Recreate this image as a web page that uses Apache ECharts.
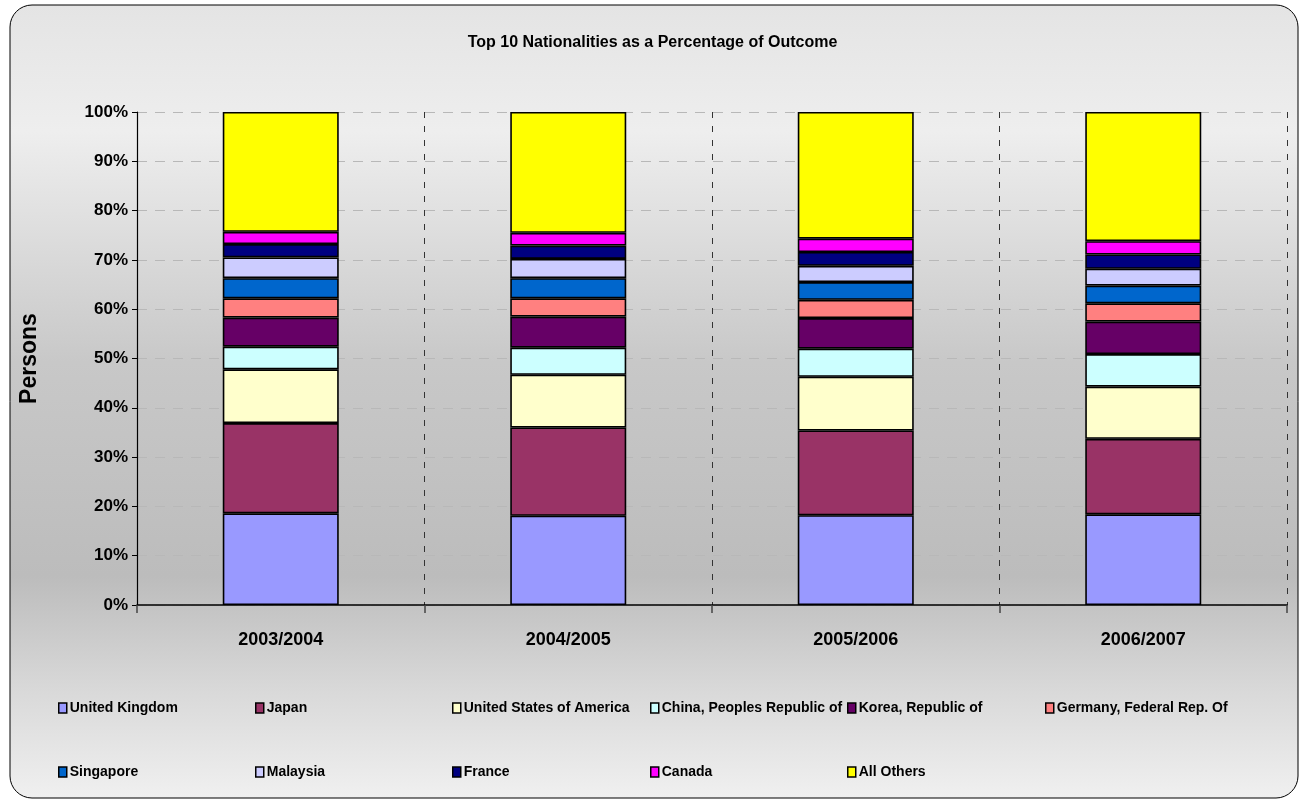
<!DOCTYPE html>
<html>
<head>
<meta charset="utf-8">
<script src="https://cdn.jsdelivr.net/npm/echarts@6/dist/echarts.min.js"></script>
<style>
html,body{margin:0;padding:0;background:#fff;}
#chart{width:1305px;height:803px;}
</style>
</head>
<body>
<div id="chart"></div>
<script>
const categories = ['2003/2004', '2004/2005', '2005/2006', '2006/2007'];
const yTicks = [0, 10, 20, 30, 40, 50, 60, 70, 80, 90, 100];
const seriesNames = ['United Kingdom', 'Japan', 'United States of America', 'China, Peoples Republic of', 'Korea, Republic of', 'Germany, Federal Rep. Of', 'Singapore', 'Malaysia', 'France', 'Canada', 'All Others'];
const unitedKingdom = [18.6, 18.1, 18.2, 18.4];
const japan = [18.3, 17.9, 17.2, 15.3];
const usa = [10.9, 10.7, 10.9, 10.6];
const china = [4.6, 5.5, 5.7, 6.6];
const korea = [5.9, 6.3, 6.2, 6.6];
const germany = [3.9, 3.7, 3.7, 3.7];
const singapore = [4.1, 4.1, 3.6, 3.6];
const malaysia = [4.2, 3.9, 3.3, 3.4];
const france = [2.7, 2.7, 2.8, 2.9];
const canada = [2.5, 2.6, 2.7, 2.7];
const allOthers = [24.3, 24.5, 25.7, 26.2];
const seriesValues = [unitedKingdom, japan, usa, china, korea, germany, singapore, malaysia, france, canada, allOthers];
const colors = ['#9999FF', '#993366', '#FFFFCC', '#CCFFFF', '#660066', '#FF8080', '#0066CC', '#CCCCFF', '#000080', '#FF00FF', '#FFFF00'];

const FONT = 'Arial, "Liberation Sans", sans-serif';
const chart = echarts.init(document.getElementById('chart'));

const legendCols = [58, 255, 452, 650, 847, 1045];
const legends = seriesNames.map((name, i) => {
  const row = i < 6 ? 0 : 1;
  const col = i < 6 ? i : i - 6;
  return {
    data: [{ name: name, icon: 'rect' }],
    left: legendCols[col],
    top: row === 0 ? 701 : 765,
    orient: 'horizontal',
    padding: 0,
    itemWidth: 8,
    itemHeight: 10,
    selectedMode: false,
    itemStyle: { borderColor: '#000', borderWidth: 1.5 },
    textStyle: { fontFamily: FONT, fontWeight: 'bold', fontSize: 14, color: '#000', padding: [0, 0, 0, -2] }
  };
});

const series = seriesNames.map((name, i) => ({
  name: name,
  type: 'bar',
  stack: 'total',
  barWidth: 116,
  data: seriesValues[i],
  itemStyle: { color: colors[i], borderColor: '#000', borderWidth: 1.6 },
  emphasis: { disabled: true }
}));

chart.setOption({
  animation: false,
  textStyle: { fontFamily: FONT },
  graphic: [{
    type: 'rect',
    z: -10,
    shape: { x: 10, y: 5, width: 1288, height: 793, r: 22 },
    style: {
      fill: new echarts.graphic.LinearGradient(0, 0, 0, 1, [
        { offset: 0, color: '#e4e4e4' },
        { offset: 0.16, color: '#eeeeee' },
        { offset: 0.45, color: '#c8c8c8' },
        { offset: 0.72, color: '#bcbcbc' },
        { offset: 0.86, color: '#d8d8d8' },
        { offset: 1, color: '#f0f0f0' }
      ]),
      stroke: '#000',
      lineWidth: 1
    }
  }],
  title: {
    text: 'Top 10 Nationalities as a Percentage of Outcome',
    left: 'center',
    top: 30,
    textStyle: { fontFamily: FONT, fontWeight: 'bold', fontSize: 16, color: '#000' }
  },
  legend: legends,
  grid: { left: 137, right: 18, top: 112, bottom: 198, containLabel: false },
  xAxis: {
    type: 'category',
    data: categories,
    boundaryGap: true,
    axisLine: { show: true, lineStyle: { color: '#000', width: 1.5 } },
    axisTick: { show: true, length: 8, alignWithLabel: false, lineStyle: { color: '#444', width: 1.5 } },
    axisLabel: { margin: 26, fontFamily: FONT, fontWeight: 'bold', fontSize: 18, color: '#000' },
    splitLine: { show: true, lineStyle: { color: '#333', type: [6, 8], width: 1 } }
  },
  yAxis: {
    type: 'value',
    min: 0,
    max: 100,
    interval: 10,
    name: 'Persons',
    nameLocation: 'middle',
    nameRotate: 90,
    nameGap: 96,
    nameTextStyle: { fontFamily: FONT, fontWeight: 'bold', fontSize: 23, color: '#000' },
    axisLine: { show: true, lineStyle: { color: '#000', width: 1.2 } },
    axisTick: { show: true, length: 5, lineStyle: { color: '#000' } },
    axisLabel: {
      margin: 9,
      fontFamily: FONT, fontWeight: 'bold', fontSize: 17, color: '#000',
      formatter: v => (yTicks.indexOf(v) >= 0 ? v + '%' : '')
    },
    splitLine: { show: true, lineStyle: { color: '#b8b8b8', type: [10, 8], width: 1 } }
  },
  series: series
});
</script>
</body>
</html>
